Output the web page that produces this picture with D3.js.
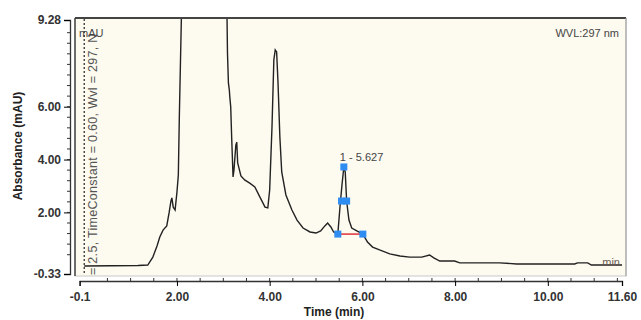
<!DOCTYPE html>
<html>
<head>
<meta charset="utf-8">
<script src="https://cdn.jsdelivr.net/npm/d3@7"></script>
<style>
 body { margin: 0; background: #fff; }
 text { font-family: Arial, "Liberation Sans", sans-serif; }
</style>
</head>
<body>
<script>
// chromatogram trace (time in min, absorbance in mAU)
var times = [0.00, 1.16, 1.37, 1.48, 1.57, 1.63, 1.70, 1.78, 1.83, 1.87, 1.89, 1.92, 1.96, 2.00, 2.03, 2.05,
  2.15, 2.60, 3.03, 3.08, 3.09, 3.11, 3.13, 3.14, 3.16, 3.18, 3.21, 3.23, 3.27, 3.29, 3.31, 3.38, 3.46,
  3.57, 3.68, 3.79, 3.90, 3.96, 4.00, 4.05, 4.09, 4.12, 4.15, 4.18, 4.22, 4.26, 4.35, 4.48, 4.59, 4.72,
  4.87, 5.00, 5.10, 5.19, 5.25, 5.32, 5.38, 5.47, 5.52, 5.56, 5.60, 5.63, 5.66, 5.71, 5.77, 5.88, 6.01,
  6.11, 6.22, 6.37, 6.59, 6.81, 7.02, 7.28, 7.45, 7.54, 7.67, 7.99, 8.10, 8.96, 9.33, 10.58, 10.64, 10.86,
  10.94, 11.60];
var absorb = [-0.03, -0.01, 0.01, 0.31, 0.73, 1.07, 1.33, 1.49, 1.98, 2.43, 2.55, 2.20, 2.09, 2.77, 3.42, 5.50,
  14.0, 22.0, 14.0, 9.36, 8.03, 6.90, 6.63, 6.37, 5.99, 4.85, 3.34, 3.61, 4.55, 4.66, 3.87, 3.38, 3.23,
  3.11, 2.96, 2.58, 2.20, 2.17, 2.85, 5.23, 7.77, 8.15, 8.07, 6.90, 4.85, 3.53, 2.66, 2.09, 1.71, 1.41,
  1.26, 1.22, 1.30, 1.49, 1.60, 1.45, 1.26, 1.18, 2.28, 3.04, 3.72, 3.53, 2.43, 1.71, 1.41, 1.30, 1.18,
  0.88, 0.69, 0.58, 0.43, 0.35, 0.31, 0.31, 0.39, 0.28, 0.16, 0.16, 0.09, 0.09, 0.05, 0.05, 0.09, 0.09,
  0.01, 0.01];

// integrated peak 1
var peakStart = [5.47, 1.18];
var peakTop = [5.60, 3.72];
var peakHalf = [[5.55, 2.43], [5.66, 2.43]];
var peakEnd = [6.01, 1.18];
var peakLabel = "1 - 5.627";

var xTicks = [-0.1, 2, 4, 6, 8, 10, 11.6];
var xTickLabels = ["-0.1", "2.00", "4.00", "6.00", "8.00", "10.00", "11.60"];
var yTicks = [-0.33, 2, 4, 6, 9.28];
var yTickLabels = ["-0.33", "2.00", "4.00", "6.00", "9.28"];

var width = 641, height = 320;

var x = d3.scaleLinear().domain([-0.1, 11.6]).range([79.6, 622]);
var y = d3.scaleLinear().domain([-0.33, 9.28]).range([274, 20]);

var svg = d3.select("body").append("svg")
  .attr("width", width)
  .attr("height", height);

// plot frame
svg.append("rect")
  .attr("x", 75).attr("y", 18).attr("width", 551).attr("height", 258)
  .attr("fill", "#fdfaef")
  .attr("stroke", "#c8c8c8")
  .attr("stroke-width", 1);
svg.append("line").attr("x1", 75).attr("x2", 626).attr("y1", 18).attr("y2", 18)
  .attr("stroke", "#444").attr("stroke-width", 2);
svg.append("line").attr("x1", 75).attr("x2", 75).attr("y1", 18).attr("y2", 276)
  .attr("stroke", "#444").attr("stroke-width", 1.5);
svg.append("line").attr("x1", 626).attr("x2", 626).attr("y1", 18).attr("y2", 276)
  .attr("stroke", "#999").attr("stroke-width", 1);

svg.append("defs").append("clipPath").attr("id", "clip")
  .append("rect").attr("x", 76).attr("y", 19).attr("width", 549).attr("height", 256);

var g = svg.append("g").attr("clip-path", "url(#clip)");

// dotted marker line at injection
g.append("line")
  .attr("x1", x(0)).attr("x2", x(0))
  .attr("y1", 19).attr("y2", 276)
  .attr("stroke", "#333")
  .attr("stroke-width", 1.3)
  .attr("stroke-dasharray", "2,2");

// method text running up the left side
g.append("text")
  .attr("transform", "translate(97,275) rotate(-90)")
  .attr("font-size", 12.5)
  .attr("letter-spacing", 0.3)
  .attr("fill", "#555")
  .text("= 2.5, TimeConstant = 0.60, Wvl = 297, N");

g.append("text")
  .attr("x", 79).attr("y", 37)
  .attr("font-size", 11)
  .attr("fill", "#444")
  .text("mAU");

g.append("text")
  .attr("x", 619).attr("y", 37)
  .attr("text-anchor", "end")
  .attr("font-size", 11)
  .attr("fill", "#444")
  .text("WVL:297 nm");

// trace
var line = d3.line()
  .x(function(d, i) { return x(times[i]); })
  .y(function(d) { return y(d); });

g.append("path")
  .datum(absorb)
  .attr("fill", "none")
  .attr("stroke", "#222")
  .attr("stroke-width", 1.4)
  .attr("d", line);

// peak baseline
g.append("line")
  .attr("x1", x(peakStart[0])).attr("y1", y(peakStart[1]))
  .attr("x2", x(peakEnd[0])).attr("y2", y(peakEnd[1]))
  .attr("stroke", "#e0303a")
  .attr("stroke-width", 1.5);

var markers = [peakStart, peakTop, peakHalf[0], peakHalf[1], peakEnd];
g.selectAll(".marker")
  .data(markers)
  .enter().append("rect")
  .attr("class", "marker")
  .attr("x", function(d) { return x(d[0]) - 3.5; })
  .attr("y", function(d) { return y(d[1]) - 3.5; })
  .attr("width", 7)
  .attr("height", 7)
  .attr("fill", "#2f8df2");

g.append("text")
  .attr("x", x(peakTop[0]) - 4)
  .attr("y", y(peakTop[1]) - 6)
  .attr("font-size", 11)
  .attr("fill", "#444")
  .text(peakLabel);

g.append("text")
  .attr("x", 620).attr("y", 266)
  .attr("text-anchor", "end")
  .attr("font-size", 11)
  .attr("fill", "#6b5a55")
  .text("min");

// y axis
var yAxis = svg.append("g").attr("transform", "translate(70,0)");
yAxis.call(d3.axisLeft(y)
  .tickValues(yTicks)
  .tickFormat(function(d, i) { return yTickLabels[i]; })
  .tickSize(6)
  .tickPadding(3));
yAxis.selectAll(".minor")
  .data(d3.range(0.4, 9.2, 0.4))
  .enter().append("line")
  .attr("class", "minor")
  .attr("x1", -3).attr("x2", 0)
  .attr("y1", function(d) { return y(d); })
  .attr("y2", function(d) { return y(d); })
  .attr("stroke", "#333");
yAxis.select(".domain").attr("stroke", "#333").attr("stroke-width", 1.3);
yAxis.selectAll("text")
  .attr("font-size", 12)
  .attr("font-weight", "bold")
  .attr("fill", "#333");

// x axis
var xAxis = svg.append("g").attr("transform", "translate(0,281)");
xAxis.call(d3.axisBottom(x)
  .tickValues(xTicks)
  .tickFormat(function(d, i) { return xTickLabels[i]; })
  .tickSize(5)
  .tickPadding(6));
xAxis.selectAll(".minor")
  .data(d3.range(0.5, 11.6, 0.5))
  .enter().append("line")
  .attr("class", "minor")
  .attr("x1", function(d) { return x(d); })
  .attr("x2", function(d) { return x(d); })
  .attr("y1", -3).attr("y2", 0)
  .attr("stroke", "#333");
xAxis.select(".domain").attr("stroke", "#333").attr("stroke-width", 1.3);
xAxis.selectAll("text")
  .attr("font-size", 12)
  .attr("font-weight", "bold")
  .attr("fill", "#333");

// axis titles
svg.append("text")
  .attr("transform", "translate(22,146) rotate(-90)")
  .attr("text-anchor", "middle")
  .attr("font-size", 12)
  .attr("font-weight", "bold")
  .attr("fill", "#222")
  .text("Absorbance (mAU)");

svg.append("text")
  .attr("x", 334).attr("y", 316)
  .attr("text-anchor", "middle")
  .attr("font-size", 12)
  .attr("font-weight", "bold")
  .attr("fill", "#222")
  .text("Time (min)");
</script>
</body>
</html>
